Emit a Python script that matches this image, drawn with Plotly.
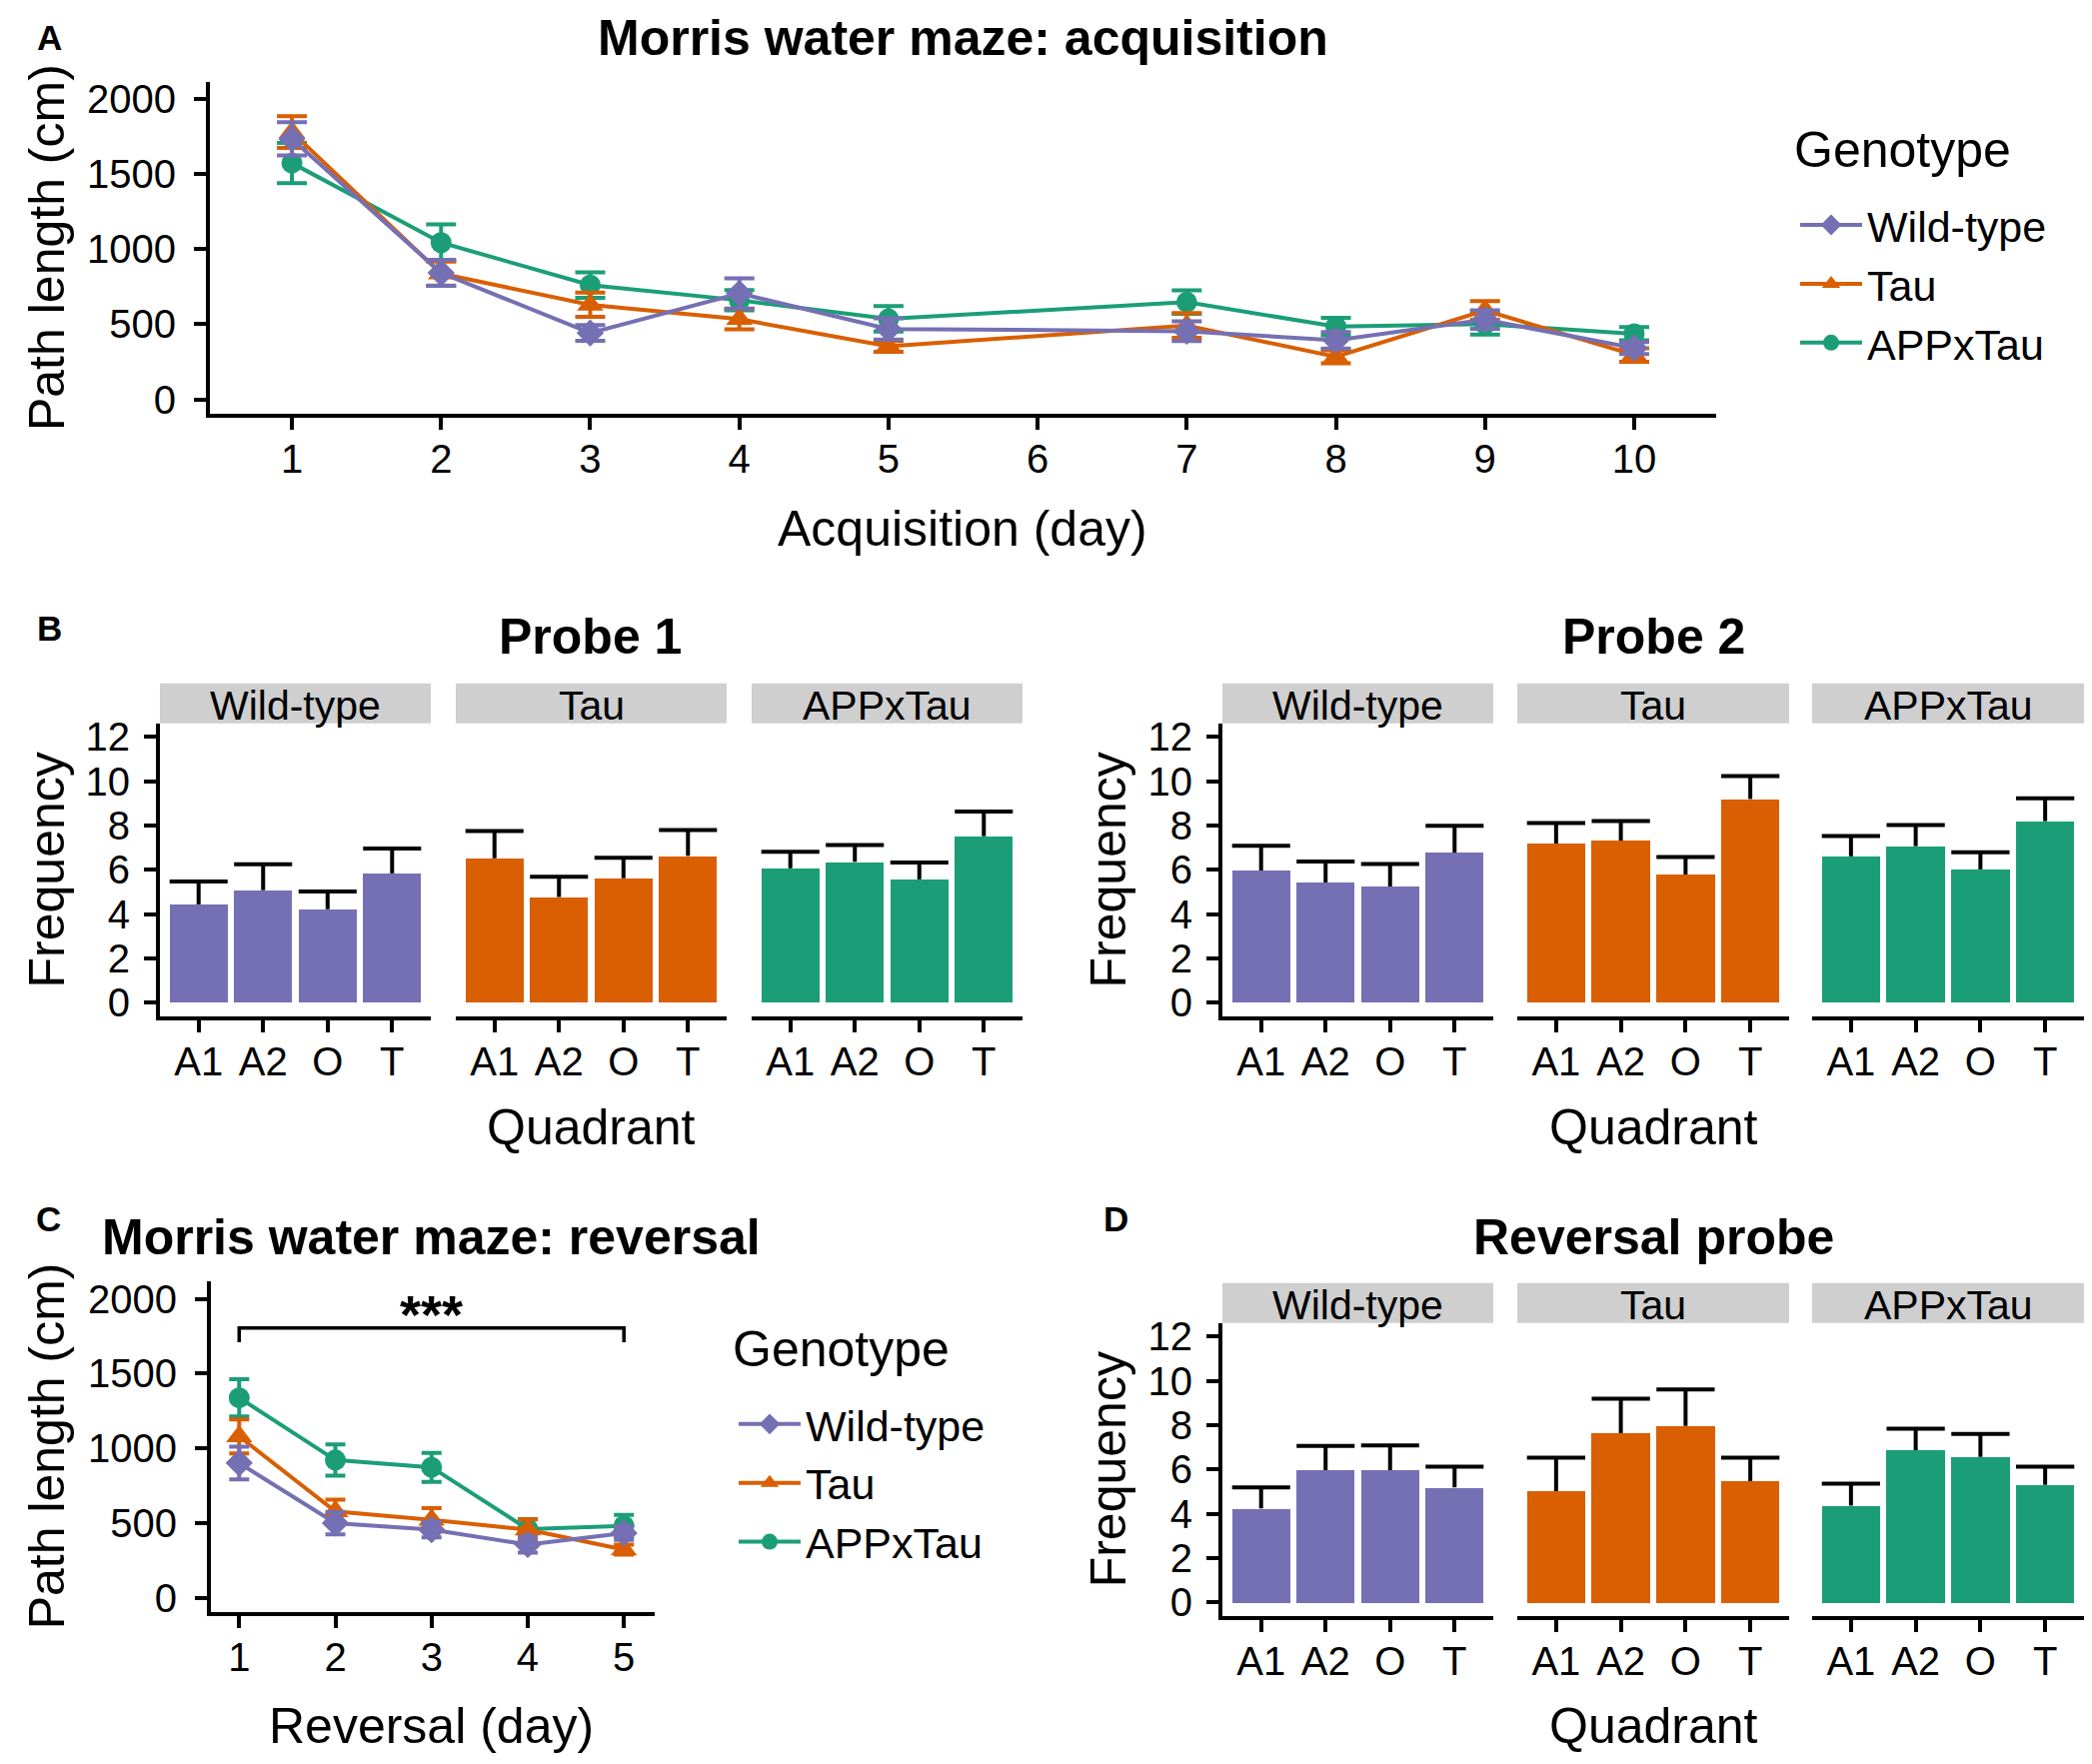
import plotly.graph_objects as go

OFF = 8  # page body margin
W, H = 2093 - 2 * OFF, 1765 - 2 * OFF
FONT = "Liberation Sans, Arial, sans-serif"

genotypes = ["Wild-type", "Tau", "APPxTau"]
colors = {"Wild-type": "#7570B3", "Tau": "#D95F02", "APPxTau": "#1B9E77"}
symbols = {"Wild-type": "diamond", "Tau": "triangle-up", "APPxTau": "circle"}
marker_sizes = {"Wild-type": 21, "Tau": 23, "APPxTau": 21}

# A: acquisition path length (cm), mean and SEM
acq_days = [1, 2, 3, 4, 5, 7, 8, 9, 10]
acq_mean = {
    "Wild-type": [1732, 841, 441, 704, 468, 453, 392, 530, 341],
    "Tau": [1777, 836, 629, 533, 352, 491, 283, 591, 295],
    "APPxTau": [1571, 1042, 760, 659, 535, 646, 484, 500, 436],
}
acq_sem = {
    "Wild-type": [110, 87, 52, 100, 70, 66, 55, 61, 40],
    "Tau": [106, 80, 81, 68, 36, 82, 43, 62, 45],
    "APPxTau": [133, 122, 85, 67, 85, 78, 58, 70, 44],
}

# C: reversal path length (cm)
rev_days = [1, 2, 3, 4, 5]
rev_mean = {
    "Wild-type": [902, 500, 456, 356, 433],
    "Tau": [1080, 578, 522, 456, 322],
    "APPxTau": [1338, 922, 873, 460, 482],
}
rev_sem = {
    "Wild-type": [109, 75, 52, 54, 45],
    "Tau": [113, 78, 78, 69, 33],
    "APPxTau": [125, 105, 97, 67, 72],
}
bracket_x = [1, 1, 5, 5]
bracket_y = [1710, 1805, 1805, 1710]
bracket_label = "***"

# B, D: quadrant frequencies
quadrants = ["A1", "A2", "O", "T"]
probe1_mean = {
    "Wild-type": [4.44, 5.08, 4.22, 5.84],
    "Tau": [6.52, 4.77, 5.62, 6.63],
    "APPxTau": [6.07, 6.36, 5.57, 7.52],
}
probe1_sem = {
    "Wild-type": [1.03, 1.17, 0.80, 1.12],
    "Tau": [1.24, 0.92, 0.93, 1.17],
    "APPxTau": [0.75, 0.76, 0.76, 1.11],
}
probe2_mean = {
    "Wild-type": [5.97, 5.43, 5.25, 6.78],
    "Tau": [7.19, 7.32, 5.79, 9.20],
    "APPxTau": [6.61, 7.07, 6.02, 8.20],
}
probe2_sem = {
    "Wild-type": [1.12, 0.95, 1.01, 1.21],
    "Tau": [0.93, 0.89, 0.79, 1.04],
    "APPxTau": [0.92, 0.95, 0.77, 1.03],
}
revprobe_mean = {
    "Wild-type": [4.24, 5.97, 5.97, 5.19],
    "Tau": [5.02, 7.64, 7.97, 5.48],
    "APPxTau": [4.37, 6.87, 6.57, 5.30],
}
revprobe_sem = {
    "Wild-type": [0.95, 1.10, 1.12, 0.94],
    "Tau": [1.52, 1.56, 1.65, 1.06],
    "APPxTau": [0.99, 0.97, 1.04, 0.83],
}


def px(x):
    return (x - OFF) / W


def py(y):
    # pixel row in the target picture -> paper fraction (small vertical calibration)
    ys = (y - 7.5) / 0.991
    return 1 - (ys - OFF) / H


def axis_style(**kw):
    base = dict(showline=True, linecolor="black", linewidth=4, ticks="outside",
                ticklen=12, tickwidth=3.5, tickcolor="black", showgrid=False,
                zeroline=False, fixedrange=True,
                tickfont=dict(family=FONT, size=40, color="black"))
    base.update(kw)
    return base


fig = go.Figure()
layout = {}
annotations = []
shapes = []


def text(s, x, y, size, bold=False, angle=0, xanchor="center"):
    annotations.append(dict(text=s, x=px(x), y=py(y), xref="paper", yref="paper",
                            xanchor=xanchor, yanchor="middle", showarrow=False,
                            textangle=angle,
                            font=dict(family=FONT, size=size, color="black",
                                      weight="bold" if bold else "normal")))


# ---------- line panels (A and C) ----------
def line_panel(n, days, means, sems, dom_x, dom_y, xr, yr, cap, legend):
    xa, ya = f"x{n}", f"y{n}"
    for rank, g in zip([3, 2, 1], genotypes[::-1]):
        fig.add_trace(go.Scatter(
            x=days, y=means[g], mode="lines+markers", name=g,
            legend=legend, legendrank=rank, legendgroup=f"{legend}{g}",
            line=dict(color=colors[g], width=4),
            marker=dict(symbol=symbols[g], size=marker_sizes[g], color=colors[g]),
            error_y=dict(type="data", array=sems[g], color=colors[g],
                         thickness=4, width=cap),
            xaxis=xa, yaxis=ya))
    layout[f"xaxis{n}"] = axis_style(domain=dom_x, range=xr, anchor=ya,
                                     tickmode="linear", tick0=1, dtick=1,
                                     ticklabelstandoff=-5)
    layout[f"yaxis{n}"] = axis_style(domain=dom_y, range=yr, anchor=xa,
                                     tickvals=[0, 500, 1000, 1500, 2000],
                                     ticklabelstandoff=10)


line_panel(1, acq_days, acq_mean, acq_sem, [px(210), px(1717)], [py(413.5), py(81.6)],
           [0.45, 10.55], [-96, 2109], 15, "legend")
line_panel(2, rev_days, rev_mean, rev_sem, [px(211), px(655)], [py(1612.7), py(1281.7)],
           [0.706, 5.32], [-96, 2118], 10, "legend2")

fig.add_trace(go.Scatter(x=bracket_x, y=bracket_y, mode="lines", showlegend=False,
                         line=dict(color="black", width=3.5), xaxis="x2", yaxis="y2",
                         hoverinfo="skip"))
annotations.append(dict(text=bracket_label, x=3, y=bracket_y[1], xref="x2", yref="y2",
                        xanchor="center", yanchor="bottom", showarrow=False, yshift=-18,
                        font=dict(family=FONT, size=54, color="black", weight="bold")))

# ---------- bar panels (B and D) ----------
probe_x = [[160, 431], [456, 727], [752, 1023]]
probe2_x = [[1223, 1494], [1518, 1790], [1813, 2085]]
bar_pos = [1, 2, 3, 4]


def bar_row(start, means, sems, xs, y_bot, y_top):
    for i, g in enumerate(genotypes):
        n = start + i
        xa, ya = f"x{n}", f"y{n}"
        fig.add_trace(go.Bar(x=bar_pos, y=means[g], width=0.9, marker_color=colors[g],
                             marker_line_width=0, showlegend=False,
                             xaxis=xa, yaxis=ya))
        ex, ey = [], []
        for xp, m, s in zip(bar_pos, means[g], sems[g]):
            ex += [xp, xp, None, xp - 0.45, xp + 0.45, None]
            ey += [m, m + s, None, m + s, m + s, None]
        fig.add_trace(go.Scatter(x=ex, y=ey, mode="lines", showlegend=False,
                                 line=dict(color="black", width=4),
                                 hoverinfo="skip", xaxis=xa, yaxis=ya))
        layout[f"xaxis{n}"] = axis_style(domain=[px(xs[i][0]), px(xs[i][1])],
                                         range=[0.4, 4.6], anchor=ya,
                                         tickvals=bar_pos, ticktext=quadrants,
                                         ticklabelstandoff=-5)
        yax = axis_style(domain=[py(y_bot), py(y_top)], range=[-0.62, 12.62],
                         anchor=xa, tickvals=[0, 2, 4, 6, 8, 10, 12],
                         ticklabelstandoff=6)
        if i > 0:
            yax["visible"] = False
        layout[f"yaxis{n}"] = yax
        # facet strip
        shapes.append(dict(type="rect", xref=f"{xa} domain", yref="paper",
                           x0=0, x1=1, y0=py(y_top), y1=py(y_top - 40),
                           fillcolor="#CFCFCF", line=dict(width=0), layer="below"))
        annotations.append(dict(text=g, x=0.5, xref=f"{xa} domain",
                                y=py(y_top - 18), yref="paper",
                                xanchor="center", yanchor="middle", showarrow=False,
                                font=dict(family=FONT, size=41, color="black")))


bar_row(3, probe1_mean, probe1_sem, probe_x, 1016.5, 723.3)
bar_row(6, probe2_mean, probe2_sem, probe2_x, 1016.5, 723.3)
bar_row(9, revprobe_mean, revprobe_sem, probe2_x, 1616.7, 1323.3)

# ---------- titles and labels ----------
annotations.append(dict(text="A", x=px(49), y=1, xref="paper", yref="paper",
                        xanchor="center", yanchor="top", showarrow=False,
                        font=dict(family=FONT, size=35, color="black", weight="bold")))
text("B", 49, 628, 35, bold=True)
text("C", 48, 1219, 35, bold=True)
text("D", 1116, 1219, 35, bold=True)

text("Morris water maze: acquisition", 963, 37, 50, bold=True)
text("Acquisition (day)", 963, 529, 50)
text("Path length (cm)", 47, 247.5, 50, angle=-90)

text("Probe 1", 590, 637, 50, bold=True)
text("Probe 2", 1654, 637, 50, bold=True)
text("Quadrant", 591, 1128, 50)
text("Quadrant", 1654, 1128, 50)
text("Frequency", 47, 870, 50, angle=-90)
text("Frequency", 1109, 870, 50, angle=-90)

text("Morris water maze: reversal", 431, 1238, 50, bold=True)
text("Reversal (day)", 431, 1727, 50)
text("Path length (cm)", 47, 1447, 50, angle=-90)

text("Reversal probe", 1654, 1238, 50, bold=True)
text("Quadrant", 1654, 1727, 50)
text("Frequency", 1109, 1470, 50, angle=-90)

# legend titles
text("Genotype", 1793, 149, 50, xanchor="left")
text("Genotype", 731, 1350, 50, xanchor="left")

legend_common = dict(xanchor="left", yanchor="top", bgcolor="rgba(0,0,0,0)",
                     font=dict(family=FONT, size=43, color="black"),
                     itemwidth=62, tracegroupgap=6, traceorder="normal")

fig.update_layout(
    width=W, height=H,
    margin=dict(l=0, r=0, t=0, b=0),
    paper_bgcolor="white", plot_bgcolor="white",
    font=dict(family=FONT, color="black"),
    bargap=0,
    annotations=annotations,
    shapes=shapes,
    legend=dict(x=px(1796), y=py(190), **legend_common),
    legend2=dict(x=px(734), y=py(1390), **legend_common),
    **layout,
)

fig.write_html("out.html")
